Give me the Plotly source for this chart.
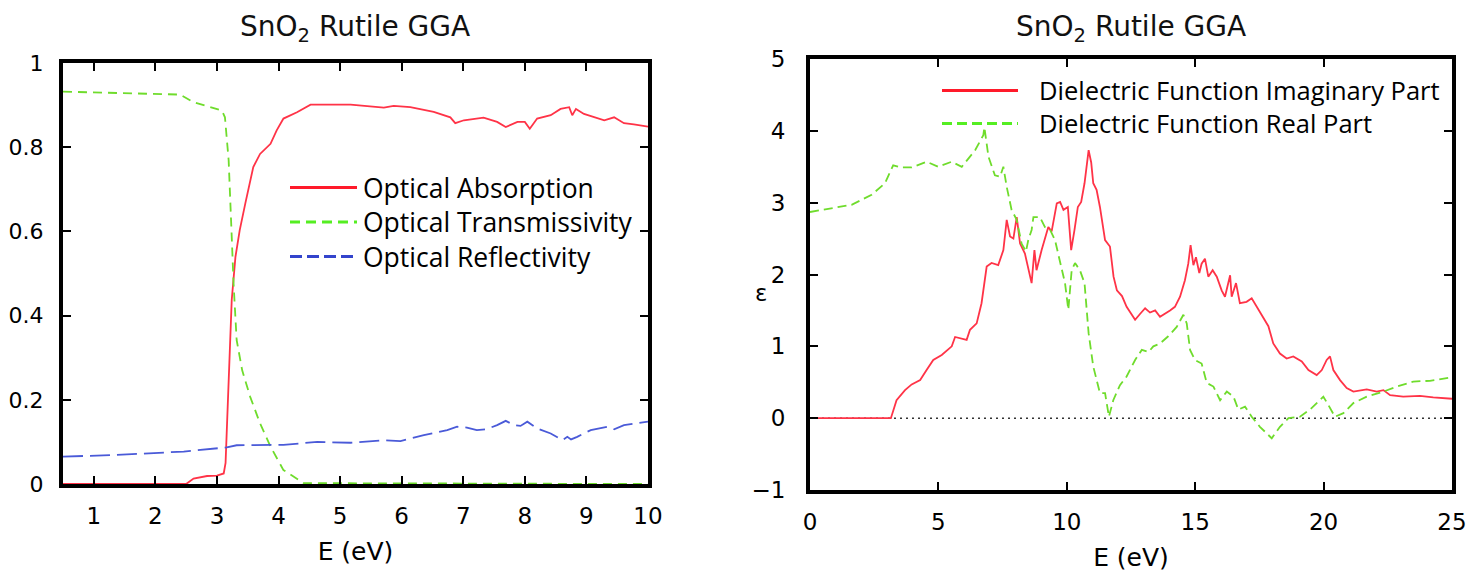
import plotly.graph_objects as go

# left panel: optical spectra of rutile SnO2
e_abs = [0.5, 2.5, 2.62, 2.84, 3.0, 3.11, 3.14, 3.19, 3.24, 3.30, 3.37, 3.46, 3.48, 3.59,
         3.70, 3.87, 3.97, 4.08, 4.30, 4.52, 5.17, 5.71, 5.87, 6.14, 6.52, 6.79, 6.87, 7.01,
         7.33, 7.55, 7.69, 7.88, 8.0, 8.08, 8.20, 8.42, 8.58, 8.72, 8.77, 8.83, 8.96, 9.29,
         9.45, 9.61, 9.77, 10.0]
absorption = [0, 0, 0.013, 0.019, 0.02, 0.025, 0.05, 0.239, 0.437, 0.539, 0.603, 0.666, 0.68,
              0.753, 0.784, 0.808, 0.840, 0.868, 0.883, 0.901, 0.901, 0.894, 0.898, 0.895, 0.884,
              0.871, 0.857, 0.864, 0.870, 0.860, 0.848, 0.860, 0.86, 0.844, 0.868, 0.876, 0.891,
              0.895, 0.876, 0.891, 0.879, 0.864, 0.871, 0.857, 0.854, 0.849]

e_trans = [0.5, 2.4, 2.62, 3.08, 3.13, 3.19, 3.24, 3.27, 3.32, 3.41, 3.54, 3.70, 3.87, 4.08,
           4.41, 10.0]
transmissivity = [0.932, 0.925, 0.907, 0.887, 0.871, 0.769, 0.587, 0.476, 0.342, 0.270, 0.207,
                  0.144, 0.089, 0.033, 0.002, 0.0]

e_refl = [0.5, 1.37, 2.46, 3.16, 3.32, 4.08, 4.63, 5.17, 5.7, 5.98, 6.36, 6.74, 6.90, 7.06,
          7.22, 7.38, 7.55, 7.69, 7.82, 7.93, 8.04, 8.20, 8.42, 8.61, 8.69, 8.75, 8.85, 9.07,
          9.34, 9.45, 9.61, 10.0]
reflectivity = [0.065, 0.069, 0.077, 0.087, 0.092, 0.093, 0.100, 0.098, 0.104, 0.102, 0.116,
                0.128, 0.136, 0.134, 0.128, 0.130, 0.140, 0.150, 0.140, 0.138, 0.148, 0.132,
                0.120, 0.104, 0.112, 0.106, 0.112, 0.128, 0.136, 0.130, 0.140, 0.148]

# right panel: dielectric function
e_imag = [0, 3.15, 3.37, 3.70, 3.96, 4.29, 4.54, 4.80, 5.13, 5.52, 5.65, 5.84, 6.10, 6.23, 6.49,
          6.68, 6.79, 6.88, 7.07, 7.33, 7.53, 7.66, 7.79, 7.92, 8.05, 8.18, 8.37, 8.50, 8.63,
          8.74, 8.82, 9.02, 9.28, 9.41, 9.61, 9.74, 9.87, 10.04, 10.17, 10.30, 10.43, 10.56,
          10.69, 10.85, 10.95, 11.03, 11.16, 11.29, 11.49, 11.68, 11.82, 11.95, 12.15, 12.33,
          12.66, 12.85, 13.05, 13.24, 13.44, 13.63, 13.82, 14.02, 14.21, 14.41, 14.60, 14.73,
          14.82, 14.93, 15.03, 15.16, 15.25, 15.38, 15.51, 15.68, 15.84, 16.03, 16.16, 16.36,
          16.42, 16.59, 16.74, 17.0, 17.20, 17.40, 17.65, 17.85, 18.04, 18.30, 18.56, 18.82,
          19.15, 19.41, 19.73, 19.93, 20.12, 20.25, 20.38, 20.64, 20.90, 21.16, 21.68, 22.07,
          22.33, 22.59, 23.10, 23.75, 24.27, 25.0]
eps_imag = [0, 0, 0.25, 0.39, 0.47, 0.53, 0.67, 0.81, 0.88, 1.00, 1.13, 1.11, 1.09, 1.23, 1.32,
            1.60, 1.88, 2.11, 2.16, 2.13, 2.34, 2.76, 2.53, 2.50, 2.80, 2.43, 2.29, 2.06, 1.88,
            2.34, 2.06, 2.34, 2.66, 2.60, 2.99, 3.01, 2.90, 2.94, 2.34, 2.62, 2.94, 3.01, 3.27,
            3.73, 3.56, 3.27, 3.18, 2.94, 2.48, 2.39, 1.97, 1.78, 1.70, 1.55, 1.37, 1.45, 1.53,
            1.47, 1.50, 1.41, 1.45, 1.50, 1.55, 1.69, 1.92, 2.15, 2.41, 2.13, 2.24, 2.02, 2.15,
            2.22, 1.97, 2.06, 1.97, 1.78, 1.69, 1.99, 1.69, 1.88, 1.60, 1.62, 1.67, 1.55, 1.39,
            1.28, 1.04, 0.90, 0.83, 0.86, 0.79, 0.67, 0.60, 0.67, 0.81, 0.86, 0.67, 0.53, 0.42,
            0.37, 0.40, 0.37, 0.39, 0.32, 0.30, 0.31, 0.29, 0.27]

e_real = [0, 0.71, 1.62, 2.40, 2.92, 3.24, 3.57, 3.96, 4.54, 4.99, 5.52, 5.91, 6.43, 6.75, 6.79,
          6.95, 7.20, 7.40, 7.53, 7.66, 7.85, 8.05, 8.24, 8.41, 8.50, 8.63, 8.70, 8.82, 8.95,
          9.15, 9.35, 9.54, 9.74, 9.93, 10.06, 10.19, 10.32, 10.51, 10.69, 10.85, 11.03, 11.29,
          11.49, 11.64, 11.81, 12.07, 12.33, 12.66, 12.92, 13.18, 13.37, 13.63, 13.95, 14.28,
          14.54, 14.67, 14.80, 14.99, 15.25, 15.45, 15.71, 15.97, 16.23, 16.49, 16.68, 16.94,
          17.20, 17.52, 17.98, 18.30, 18.63, 19.08, 19.47, 19.99, 20.19, 20.44, 20.77, 21.16,
          21.68, 22.33, 22.85, 23.49, 24.14, 25.0]
eps_real = [2.87, 2.91, 2.97, 3.11, 3.27, 3.52, 3.49, 3.49, 3.57, 3.50, 3.57, 3.50, 3.73, 3.94,
            4.05, 3.64, 3.38, 3.36, 3.50, 3.22, 2.90, 2.76, 2.43, 2.32, 2.48, 2.62, 2.80, 2.80,
            2.80, 2.66, 2.62, 2.48, 2.16, 1.88, 1.51, 2.06, 2.16, 2.06, 1.88, 1.18, 0.72, 0.35,
            0.35, 0.02, 0.25, 0.46, 0.58, 0.81, 0.95, 0.92, 1.00, 1.04, 1.14, 1.27, 1.44, 1.32,
            0.95, 0.81, 0.76, 0.49, 0.44, 0.25, 0.37, 0.30, 0.12, 0.16, 0.02, -0.12, -0.28,
            -0.12, 0.0, 0.02, 0.12, 0.30, 0.18, 0.02, 0.07, 0.21, 0.30, 0.37, 0.44, 0.51, 0.52,
            0.57]

left_labels = ["Optical Absorption", "Optical Transmissivity", "Optical Reflectivity"]
right_labels = ["Dielectric Function Imaginary Part", "Dielectric Function Real Part"]

RED = "#ff3347"
GREEN = "#6fdc2c"
BLUE = "#4a5ad8"
# the page body adds an 8px margin, so the figure fills the rest of the 1477x578 window
OFF = 8
W, H = 1477 - OFF, 578 - OFF


def px(x):
    return (x - OFF) / W


def py(y):
    return 1 - (y - OFF) / H


fig = go.Figure()
fig.add_trace(go.Scatter(x=e_abs, y=absorption, mode="lines",
                         line=dict(color=RED, width=1.8), xaxis="x", yaxis="y"))
fig.add_trace(go.Scatter(x=e_trans, y=transmissivity, mode="lines",
                         line=dict(color=GREEN, width=1.8, dash="9px,6px"), xaxis="x", yaxis="y"))
fig.add_trace(go.Scatter(x=e_refl, y=reflectivity, mode="lines",
                         line=dict(color=BLUE, width=1.8, dash="20px,7px"), xaxis="x", yaxis="y"))
fig.add_trace(go.Scatter(x=e_imag, y=eps_imag, mode="lines",
                         line=dict(color=RED, width=1.8), xaxis="x2", yaxis="y2"))
fig.add_trace(go.Scatter(x=e_real, y=eps_real, mode="lines",
                         line=dict(color=GREEN, width=1.8, dash="9px,5px"), xaxis="x2", yaxis="y2"))

tick_font = dict(family="DejaVu Sans", size=23, color="black")
title_font = dict(family="DejaVu Sans", size=25, color="black")
axis = dict(showline=True, linewidth=4, linecolor="black", mirror="ticks", ticks="inside",
            ticklen=8, tickwidth=2, tickcolor="black", showgrid=False, zeroline=False,
            automargin=False, tickfont=tick_font)

fig.update_layout(
    width=W, height=H, margin=dict(l=0, r=0, t=0, b=0),
    paper_bgcolor="white", plot_bgcolor="white", showlegend=False,
    xaxis=dict(axis, domain=[px(63), px(648)], range=[0.5, 10], dtick=1, tick0=0,
               anchor="y", ticklabelstandoff=8,
               title=dict(text="E (eV)", font=title_font, standoff=16)),
    yaxis=dict(axis, domain=[py(484), py(63)], range=[0, 1], dtick=0.2, anchor="x",
               ticklabelstandoff=11, tickfont=dict(tick_font, size=22)),
    xaxis2=dict(axis, domain=[px(810), px(1452)], range=[0, 25], dtick=5, anchor="y2",
                ticklabelstandoff=8,
                title=dict(text="E (eV)", font=title_font, standoff=16)),
    yaxis2=dict(axis, domain=[py(490), py(59)], range=[-1, 5], dtick=1, anchor="x2",
                ticklabelstandoff=16),
)

# zero reference on the dielectric panel
fig.add_shape(type="line", xref="x2 domain", yref="y2", x0=0, x1=1, y0=0, y1=0,
              line=dict(color="#333333", width=1.5, dash="2px,4px"), layer="below")

# panel titles and the epsilon label
for cx in (355, 1131):
    fig.add_annotation(text="SnO<sub>2</sub> Rutile GGA", x=px(cx), y=py(8.5), xref="paper",
                       yref="paper", showarrow=False, xanchor="center", yanchor="top",
                       borderpad=0,
                       font=dict(family="DejaVu Sans", size=28, color="#111111"))
fig.add_annotation(text="ε", x=px(761), y=py(293), xref="paper", yref="paper",
                   showarrow=False, xanchor="center", yanchor="middle", font=tick_font)


# hand-placed legends: one multi-line label block plus a key line per row
def add_legend(labels, keys, x_key0, x_key1, x_text, y_mid, size):
    step = size * 1.3
    n = len(labels)
    for i, kline in enumerate(keys):
        ky = y_mid + (i - (n - 1) / 2) * step
        fig.add_shape(type="line", xref="paper", yref="paper", x0=px(x_key0), x1=px(x_key1),
                      y0=py(ky), y1=py(ky), line=kline)
    fig.add_annotation(text="<br>".join(labels), x=px(x_text), y=py(y_mid), xref="paper",
                       yref="paper", showarrow=False, xanchor="left", yanchor="middle",
                       align="left", font=dict(family="Open Sans", size=size, color="black"))


add_legend(left_labels,
           [dict(color="#ff1a2a", width=3),
            dict(color="#55ee22", width=3, dash="10px,6px"),
            dict(color="#3344cc", width=3, dash="12px,5px")],
           290, 357, 361, 222, 26.5)
add_legend(right_labels,
           [dict(color="#ff1a2a", width=3),
            dict(color="#55ee22", width=3, dash="10px,5px")],
           942, 1018, 1037, 107, 25.5)

fig.write_html("out.html")
